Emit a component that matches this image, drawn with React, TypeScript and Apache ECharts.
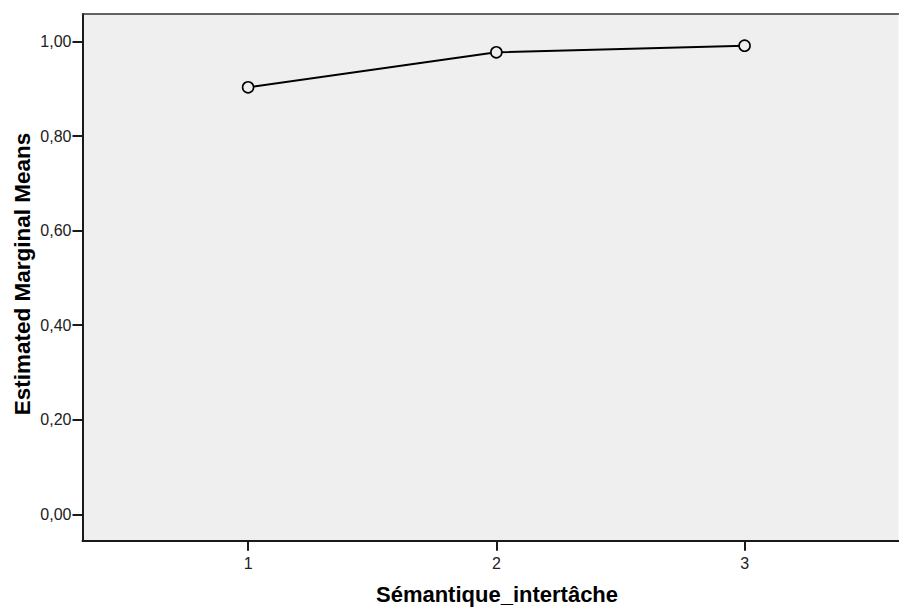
import React, { useEffect, useRef } from "react";
import * as echarts from "echarts";

const categories = [1, 2, 3];
const means = [0.903, 0.977, 0.991];
const yTicks = [0, 0.2, 0.4, 0.6, 0.8, 1.0];
const xTitle = "Sémantique_intertâche";
const yTitle = "Estimated Marginal Means";

const FONT = "'Liberation Sans', Arial, sans-serif";

export default function App() {
  const ref = useRef<HTMLDivElement>(null);
  useEffect(() => {
    if (!ref.current) return;
    const chart = echarts.init(ref.current, null, { renderer: "svg" });
    chart.setOption({
      animation: false,
      grid: {
        left: 82.5,
        right: 0.5,
        top: 14,
        bottom: 69.3,
        show: true,
        backgroundColor: "#EFEFEF",
        borderWidth: 0,
      },
      xAxis: [
        {
          type: "value",
          min: 0.333,
          max: 3.62,
          splitLine: { show: false },
          axisLine: { show: true, onZero: false, lineStyle: { color: "#1a1a1a", width: 2 } },
          axisTick: {
            show: true,
            customValues: categories,
            length: 10,
            lineStyle: { color: "#1a1a1a", width: 2 },
          },
          axisLabel: {
            customValues: categories,
            margin: 15,
            fontSize: 16,
            color: "#222",
            fontFamily: FONT,
          },
        },
        {
          type: "value",
          position: "top",
          min: 0.333,
          max: 3.62,
          splitLine: { show: false },
          axisLine: { show: true, onZero: false, lineStyle: { color: "#333", width: 1.5 } },
          axisTick: { show: false },
          axisLabel: { show: false },
        },
      ],
      yAxis: {
        type: "value",
        min: -0.0558,
        max: 1.058,
        splitLine: { show: false },
        axisLine: { show: true, onZero: false, lineStyle: { color: "#1a1a1a", width: 2 } },
        axisTick: {
          show: true,
          customValues: yTicks,
          length: 10,
          lineStyle: { color: "#1a1a1a", width: 2 },
        },
        axisLabel: {
          customValues: yTicks,
          margin: 11,
          fontSize: 16,
          color: "#222",
          fontFamily: FONT,
          formatter: (v: number) => v.toFixed(2).replace(".", ","),
        },
      },
      series: [
        {
          type: "line",
          xAxisIndex: 0,
          data: categories.map((c, i) => [c, means[i]]),
          symbol: "circle",
          symbolSize: 11,
          showSymbol: true,
          lineStyle: { color: "#000", width: 2 },
          itemStyle: { color: "#EFEFEF", borderColor: "#000", borderWidth: 1.6 },
          z: 3,
        },
      ],
      graphic: [
        {
          type: "text",
          x: 497,
          y: 594,
          style: {
            text: xTitle,
            font: `bold 22px ${FONT}`,
            fill: "#000",
            textAlign: "center",
            textVerticalAlign: "middle",
          },
        },
        {
          type: "text",
          x: 22,
          y: 274,
          rotation: Math.PI / 2,
          style: {
            text: yTitle,
            font: `bold 22.5px ${FONT}`,
            fill: "#000",
            textAlign: "center",
            textVerticalAlign: "middle",
          },
        },
      ],
    });
    return () => chart.dispose();
  }, []);
  return (
    <div
      ref={ref}
      style={{ position: "fixed", left: 0, top: 0, width: 899, height: 610, background: "#fff" }}
    />
  );
}
